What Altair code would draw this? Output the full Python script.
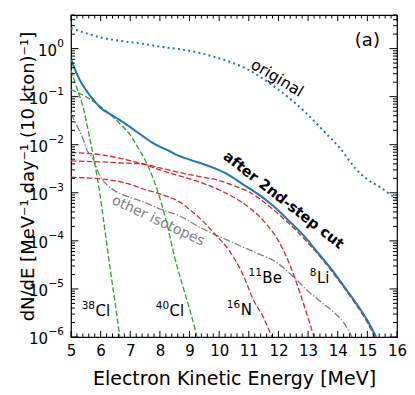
import altair as alt
import pandas as pd

# ---------------- data ----------------
orig_x = [5.0, 5.5, 6.0, 6.5, 7.33, 8.0, 8.6, 9.2, 9.7, 10.4, 11.05, 11.7, 12.33, 12.9, 13.5, 14.09, 14.6, 15.0, 15.44, 15.88, 16.0]
orig_y = [2.66, 2.1, 1.7, 1.5, 1.28, 1.1, 0.98, 0.85, 0.71, 0.52, 0.346, 0.19, 0.097, 0.048, 0.02, 0.0083, 0.0032, 0.0019, 0.0013, 0.00083, 0.00075]

cut_x = [5.0, 5.15, 5.3, 5.5, 5.64, 5.8, 6.0, 6.3, 6.6, 7.1, 7.5, 7.8, 8.3, 8.6, 9.0, 9.7, 10.3, 10.8, 11.3, 11.8, 12.3, 12.8, 13.3, 13.85, 14.3, 14.7, 15.0, 15.3]
cut_y = [0.6, 0.35, 0.22, 0.14, 0.105, 0.08, 0.058, 0.044, 0.034, 0.021, 0.014, 0.0105, 0.0075, 0.006, 0.0049, 0.0035, 0.0024, 0.0015, 0.00095, 0.00055, 0.00028, 0.00014, 0.00006, 0.000023, 0.0000095, 0.0000043, 0.0000022, 0.000001]

li8_x = [5.0, 6.0, 7.0, 7.4, 8.0, 8.6, 9.3, 10.0, 10.5, 11.0, 11.5, 12.0, 12.5, 13.0, 13.5, 14.0, 14.5, 15.0, 15.25]
li8_y = [4.6e-3, 4.4e-3, 4.1e-3, 4.0e-3, 3.3e-3, 2.7e-3, 2.2e-3, 1.8e-3, 1.4e-3, 1.05e-3, 6.5e-4, 3.6e-4, 1.9e-4, 9e-5, 4e-5, 1.6e-5, 6e-6, 2e-6, 1e-6]

be11_x = [5.0, 6.0, 6.8, 7.4, 8.0, 8.6, 9.3, 10.0, 10.5, 11.0, 11.5, 12.0, 12.4, 12.8, 13.0, 13.2]
be11_y = [6.9e-3, 6.2e-3, 5e-3, 4e-3, 3e-3, 2.3e-3, 1.7e-3, 1.15e-3, 8e-4, 5e-4, 2.6e-4, 1e-4, 3e-5, 6e-6, 2.5e-6, 1e-6]

n16_x = [5.0, 6.0, 7.0, 7.44, 8.0, 8.34, 8.6, 9.0, 9.36, 9.9, 10.37, 10.8, 11.15, 11.5, 11.78]
n16_y = [2.1e-3, 1.95e-3, 1.5e-3, 1.2e-3, 9.5e-4, 8e-4, 6.8e-4, 4.5e-4, 2.9e-4, 1.3e-4, 5.9e-5, 2e-5, 6e-6, 2.5e-6, 1e-6]

cl38_x = [5.0, 5.2, 5.42, 5.6, 5.75, 5.98, 6.1, 6.32, 6.5, 6.65]
cl38_y = [0.35, 0.15, 0.056, 0.017, 6e-3, 9e-4, 2.6e-4, 2.7e-5, 4.5e-6, 1e-6]

cl40_x = [5.0, 5.5, 6.0, 6.66, 7.0, 7.22, 7.5, 7.9, 8.2, 8.5, 8.8, 9.05, 9.25]
cl40_y = [0.14, 0.1, 0.062, 0.027, 0.016, 9.6e-3, 4.8e-3, 1.2e-3, 2.8e-4, 4.5e-5, 1e-5, 3e-6, 1e-6]

oth_x = [5.0, 5.2, 5.41, 5.53, 5.75, 6.0, 6.2, 6.43, 7.0, 7.44, 8.0, 8.62, 9.36, 9.8, 10.5, 11.2, 11.95, 12.5, 13.0, 13.5, 13.86, 14.2, 14.48]
oth_y = [0.044, 0.025, 0.013, 8e-3, 5e-3, 2.1e-3, 1.5e-3, 1.15e-3, 8e-4, 6.5e-4, 4.6e-4, 3.4e-4, 1.9e-4, 1.4e-4, 9e-5, 5.8e-5, 3.5e-5, 1.8e-5, 9e-6, 5e-6, 3.3e-6, 2e-6, 1e-6]

# plain annotations
note_text = ["(a)", "original", "after 2nd-step cut", "other isotopes"]
note_x = [15.0, 11.96, 12.16, 7.94]
note_y = [1.47, 0.244, 6.9e-4, 2.6e-4]

# isotope labels: mass number (superscript) + element symbol, anchored at their junction
iso_mass = ["38", "40", "16", "11", "8"]
iso_elem = ["Cl", "Cl", "N", "Be", "Li"]
iso_x = [5.81, 8.31, 10.71, 11.44, 13.28]
iso_y = [3.41e-6, 3.41e-6, 3.58e-6, 1.65e-5, 1.65e-5]

x_major = list(range(5, 17))
x_minor = [round(5 + 0.2 * i, 1) for i in range(56) if i % 5 != 0]
y_major = [1e-6, 1e-5, 1e-4, 1e-3, 1e-2, 1e-1, 1.0]
y_exp = ["−6", "−5", "−4", "−3", "−2", "−1", "0"]
y_minor = [k * 10.0 ** n for n in range(-6, 1) for k in range(2, 10) if k * 10.0 ** n <= 5]

# ---------------- chart ----------------
W, H = 326, 322
FONT = "DejaVu Sans"
xscale = alt.Scale(domain=[5, 16], nice=False, zero=False)
yscale = alt.Scale(type="log", domain=[1e-6, 5], nice=False)

xaxis = alt.Axis(title="Electron Kinetic Energy [MeV]", values=x_major, ticks=False, domain=False, grid=False,
                 labelFontSize=15, titleFontSize=19, labelPadding=6, titlePadding=11, labelFont=FONT,
                 titleFont=FONT, labelColor="black", titleColor="black", titleFontWeight="normal",
                 labelFlush=False)
yaxis = alt.Axis(title="dN/dE [MeV⁻¹ day⁻¹ (10 kton)⁻¹]", values=y_major, ticks=False, domain=False, grid=False,
                 labels=False, titleFontSize=18, titlePadding=34, titleFont=FONT, titleColor="black",
                 titleFontWeight="normal")


def enc_xy(xf="x", yf="y"):
    return dict(x=alt.X(f"{xf}:Q", scale=xscale, axis=xaxis), y=alt.Y(f"{yf}:Q", scale=yscale, axis=yaxis))


def line(xs, ys, color, width, dash=None):
    kw = dict(color=color, strokeWidth=width, clip=True, interpolate="monotone")
    if dash:
        kw["strokeDash"] = dash
    return alt.Chart(pd.DataFrame({"x": xs, "y": ys})).mark_line(**kw).encode(**enc_xy())


BLUE, RED, GREEN, GRAY = "#1f77b4", "#d62728", "#2ca02c", "#7f7f7f"
dash = [5.5, 2.4]
layers = [
    line(orig_x, orig_y, BLUE, 2.0, [2, 3.2]),
    line(oth_x, oth_y, GRAY, 1.3, [7, 2, 1.3, 2]),
    line(cl38_x, cl38_y, GREEN, 1.3, dash),
    line(cl40_x, cl40_y, GREEN, 1.3, dash),
    line(n16_x, n16_y, RED, 1.3, dash),
    line(be11_x, be11_y, RED, 1.3, dash),
    line(li8_x, li8_y, RED, 1.3, dash),
    line(cut_x, cut_y, BLUE, 2.0),
]


def xticks(vals, length):
    d = alt.Chart(pd.DataFrame({"v": vals}))
    enc = dict(x=alt.X("v:Q", scale=xscale, axis=xaxis))
    return [d.mark_rule(color="black", strokeWidth=1).encode(y=alt.value(H), y2=alt.value(H - length), **enc),
            d.mark_rule(color="black", strokeWidth=1).encode(y=alt.value(0), y2=alt.value(length), **enc)]


def yticks(vals, length):
    d = alt.Chart(pd.DataFrame({"v": vals}))
    enc = dict(y=alt.Y("v:Q", scale=yscale, axis=yaxis))
    return [d.mark_rule(color="black", strokeWidth=1).encode(x=alt.value(0), x2=alt.value(length), **enc),
            d.mark_rule(color="black", strokeWidth=1).encode(x=alt.value(W), x2=alt.value(W - length), **enc)]


layers += xticks(x_major, 6) + xticks(x_minor, 3.5) + yticks(y_major, 7.5) + yticks(y_minor, 4)

# y tick labels as 10 + superscript exponent
ylab = pd.DataFrame({"v": y_major, "base": ["10"] * len(y_major), "e": y_exp})
ylab_pos = ylab[ylab.e == "0"]
ylab_neg = ylab[ylab.e != "0"]
yenc = dict(y=alt.Y("v:Q", scale=yscale, axis=yaxis))
for part, off in ((ylab_pos, 14), (ylab_neg, 23)):
    layers.append(alt.Chart(part).mark_text(font=FONT, fontSize=15, align="right", baseline="middle",
                                            color="black", dy=2).encode(x=alt.value(-off), text="base:N", **yenc))
layers.append(alt.Chart(ylab).mark_text(font=FONT, fontSize=10.5, align="right", baseline="middle",
                                        color="black", dy=-5).encode(x=alt.value(-7), text="e:N", **yenc))

notes = pd.DataFrame({"t": note_text, "x": note_x, "y": note_y})


def note(i, size, angle=0, color="black", weight="normal"):
    return alt.Chart(notes.iloc[[i]]).mark_text(fontSize=size, angle=angle, color=color, font=FONT,
                                               fontWeight=weight, align="center",
                                               baseline="middle").encode(text="t:N", **enc_xy())


layers += [
    note(0, 18),
    note(1, 15.5, 31),
    note(2, 14.5, 38, weight="bold"),
    note(3, 14, 25, color=GRAY),
]

iso = pd.DataFrame({"m": iso_mass, "el": iso_elem, "x": iso_x, "y": iso_y})
layers += [
    alt.Chart(iso).mark_text(font=FONT, fontSize=10.5, align="right", baseline="middle", color="black",
                             dy=-5).encode(text="m:N", **enc_xy()),
    alt.Chart(iso).mark_text(font=FONT, fontSize=15, align="left", baseline="middle", color="black",
                             dx=0.5).encode(text="el:N", **enc_xy()),
]

chart = alt.layer(*layers).properties(
    width=W, height=H,
    padding={"left": 63, "top": 7, "right": 10, "bottom": 58},
    autosize=alt.AutoSizeParams(type="none"),
).configure_view(stroke="black", strokeWidth=1.2)

chart.save("out.html", embed_options={"renderer": "svg", "actions": False})
